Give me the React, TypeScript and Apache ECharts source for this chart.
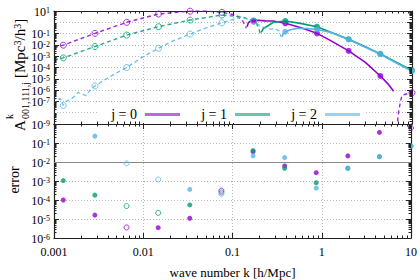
import React, { useEffect, useRef } from "react";
import * as echarts from "echarts";

const SERIF = '"Liberation Serif", "Times New Roman", Times, serif';
const COLORS = ["#9400D3", "#009E73", "#56B4E9"];
const legendLabels = ["j = 0", "j = 1", "j = 2"];

// k values where markers / errors are evaluated
const kMarkers = [0.00127, 0.00287, 0.0065, 0.0147, 0.0332, 0.0751, 0.17, 0.384, 0.867, 1.96, 4.43, 10];

// top panel marker values |A|
const topMark0 = [9.5e-3, 0.105, 1.0, 5.4, 9.6, 7.6, 1.38, 0.81, 0.105, 2.95e-3, 1.78e-5, 5.9e-7];
const topMark1 = [7.1e-4, 7.2e-3, 0.074, 0.41, 1.58, 4.4, 1.26, 1.32, 0.41, 0.032, 1.6e-3, 5.6e-5];
const topMark2 = [4.4e-8, 2.3e-6, 1.0e-4, 5.0e-3, 0.091, 0.91, 1.26, 0.145, 0.234, 0.03, 1.5e-3, 4.7e-5];
// 1 = negative value (open marker)
const topOpen0 = [1, 1, 1, 1, 1, 1, 0, 0, 0, 0, 0, 1];
const topOpen1 = [1, 1, 1, 1, 1, 1, 1, 0, 0, 0, 0, 0];
const topOpen2 = [1, 1, 1, 1, 1, 1, 1, 0, 0, 0, 0, 0];

// bottom panel errors
const err0 = [1e-4, 1.6e-5, 3.6e-6, 3.5e-6, 1.1e-5, 3.1e-4, 0.035, 6.2e-3, 2.75e-3, 0.021, 0.36, 0.63];
const err1 = [1.05e-3, 1.8e-4, 4.8e-5, 2.1e-5, 5.5e-5, 2.5e-4, 0.04, 4.7e-3, 8.1e-4, 4.7e-3, 0.019, 0.069];
const err2 = [null, 0.23, 8.5e-3, 1.2e-3, 3.6e-4, 2.1e-4, 0.021, 0.017, 4.2e-4, 4.7e-3, 0.019, 0.069];
const errOpen0 = [0, 0, 1, 0, 0, 1, 0, 0, 0, 0, 0, 1];
const errOpen1 = [0, 0, 1, 1, 0, 1, 0, 0, 0, 0, 0, 0];
const errOpen2 = [0, 0, 1, 1, 0, 1, 0, 0, 0, 0, 0, 0];

// curves: [k, |A|]
const curve0Neg = [
  [0.001, 5.9e-3], [0.00127, 9.5e-3], [0.00287, 0.105], [0.0065, 1.0], [0.0147, 5.4],
  [0.0332, 9.8], [0.05, 10], [0.0751, 7.6], [0.106, 4.5], [0.127, 1.6], [0.141, 0.3],
];
const curve0Pos = [
  [0.144, 0.4], [0.148, 0.9], [0.156, 1.25], [0.17, 1.38], [0.191, 1.5], [0.229, 1.35],
  [0.282, 1.3], [0.384, 0.81], [0.565, 0.35], [0.867, 0.105], [1.22, 0.025], [1.96, 2.95e-3],
  [3.01, 2.8e-4], [4.43, 1.78e-5], [5.45, 3.2e-6], [6.24, 8e-7],
];
const curve0NegHigh = [
  [6.7, 1e-10], [7.0, 6.3e-9], [7.42, 1e-7], [7.75, 3.5e-7], [8.44, 4.3e-7], [10, 5.9e-7],
];
const curve1Neg = [
  [0.001, 4.4e-4], [0.00127, 7.1e-4], [0.00287, 7.2e-3], [0.0065, 0.074], [0.0147, 0.41],
  [0.0332, 1.58], [0.0751, 4.4], [0.12, 3.2], [0.148, 2.0], [0.17, 1.26], [0.182, 0.85],
  [0.195, 0.25], [0.201, 0.1],
];
const curve1Pos = [
  [0.207, 0.13], [0.218, 0.28], [0.241, 0.45], [0.282, 1.0], [0.384, 1.32], [0.565, 0.8],
  [0.867, 0.41], [1.22, 0.14], [1.96, 0.032], [3.01, 7e-3], [4.43, 1.6e-3], [6.52, 3.2e-4],
  [10, 5.6e-5],
];
const curve2Neg = [
  [0.001, 5e-8], [0.00108, 1.26e-7], [0.00117, 1.8e-7], [0.00127, 4.4e-8], [0.00136, 1e-7],
  [0.00151, 1.4e-7], [0.00167, 2.5e-7], [0.00185, 6.3e-7], [0.00206, 4.5e-7], [0.00228, 3.2e-7],
  [0.00253, 1e-6], [0.00287, 2.3e-6], [0.00423, 1.6e-5], [0.0065, 1e-4], [0.00964, 7.9e-4],
  [0.0147, 5e-3], [0.022, 0.025], [0.0332, 0.091], [0.0501, 0.32], [0.0751, 0.91], [0.12, 2.8],
  [0.144, 2.0], [0.17, 1.26], [0.201, 0.45], [0.229, 0.32], [0.261, 0.25], [0.297, 0.28],
  [0.329, 0.16], [0.346, 0.05],
];
const curve2Pos = [
  [0.355, 0.054], [0.364, 0.1], [0.384, 0.145], [0.437, 0.22], [0.523, 0.29], [0.677, 0.28],
  [0.867, 0.234], [1.22, 0.13], [1.96, 0.03], [3.01, 6.3e-3], [4.43, 1.5e-3], [6.52, 2.8e-4],
  [10, 4.7e-5],
];

// axis ranges
const X_RANGE = [0.001, 10];
const Y_TOP_RANGE = [1e-9, 10];
const Y_BOT_RANGE = [1e-6, 1];
const MINOR_MULTS = [2, 3, 4, 5, 6, 7, 8, 9];

const AX = "#222";
const GRID_COLOR = "#b8b8b8";

const supRich = {
  b: { fontFamily: SERIF, fontSize: 12, color: "#000", lineHeight: 9, padding: [1, 0, 0, 0] },
  s: { fontFamily: SERIF, fontSize: 8, color: "#000", lineHeight: 5, verticalAlign: "top" },
};
const supFmt = (v: number) => `{b|10}{s|${Math.round(Math.log10(v))}}`;

// minor tick positions of a log axis (decoration, not data)
function minorTicks(range: number[]) {
  const out: number[] = [];
  const e0 = Math.round(Math.log10(range[0]));
  const e1 = Math.round(Math.log10(range[1]));
  for (let e = e0; e < e1; e++) MINOR_MULTS.forEach((m) => out.push(m * Math.pow(10, e)));
  return out;
}

function xAxis(grid: number, pos: "top" | "bottom", labels: boolean, split: boolean) {
  return {
    type: "log",
    logBase: 10,
    gridIndex: grid,
    position: pos,
    min: X_RANGE[0],
    max: X_RANGE[1],
    axisLine: { show: true, onZero: false, lineStyle: { color: AX, width: 1.2 } },
    axisTick: { show: true, inside: true, length: 5, lineStyle: { color: AX } },
    minorTick: { show: false },
    axisLabel: labels
      ? {
          show: true,
          fontFamily: SERIF,
          fontSize: 12,
          color: "#000",
          margin: 8,
          showMinLabel: true,
          showMaxLabel: true,
          formatter: (v: number) => {
            const e = Math.round(Math.log10(v));
            return e < 0 ? Math.pow(10, e).toFixed(-e) : String(Math.pow(10, e));
          },
        }
      : { show: false },
    splitLine: { show: split, lineStyle: { type: [1, 2], color: GRID_COLOR } },
    name: labels ? "wave number k [h/Mpc]" : "",
    nameLocation: "middle",
    nameGap: 28,
    nameTextStyle: { fontFamily: SERIF, fontSize: 13, color: "#000" },
  };
}

function yAxis(grid: number, pos: "left" | "right", range: number[], labels: boolean, split: boolean, hideTop: boolean) {
  return {
    type: "log",
    logBase: 10,
    gridIndex: grid,
    position: pos,
    min: range[0],
    max: range[1],
    interval: 1,
    splitNumber: Math.round(Math.log10(range[1] / range[0])),
    axisLine: { show: true, onZero: false, lineStyle: { color: AX, width: 1.2 } },
    axisTick: { show: true, inside: true, length: 5, lineStyle: { color: AX } },
    minorTick: { show: false },
    axisLabel: labels
      ? {
          show: true,
          margin: 4,
          showMinLabel: true,
          showMaxLabel: true,
          hideOverlap: false,
          formatter: (v: number) => (hideTop && v >= 0.999 ? "" : supFmt(v)),
          rich: supRich,
        }
      : { show: false },
    splitLine: { show: split, lineStyle: { type: [1, 2], color: GRID_COLOR } },
  };
}

// custom series drawing minor ticks on all four sides of a panel
function minorTickSeries(grid: number, yRange: number[]) {
  const xs = minorTicks(X_RANGE).map((v) => [v, yRange[1], 0]);
  const ys = minorTicks(yRange).map((v) => [X_RANGE[0], v, 1]);
  const L = 2.5;
  return {
    type: "custom",
    xAxisIndex: grid,
    yAxisIndex: grid,
    silent: true,
    clip: false,
    z: 6,
    encode: { x: 0, y: 1 },
    data: [...xs, ...ys],
    renderItem: (params: any, api: any) => {
      const cs = params.coordSys;
      const p = api.coord([api.value(0), api.value(1)]);
      const style = { stroke: AX, lineWidth: 1 };
      if (api.value(2) === 0) {
        const x = Math.round(p[0]) + 0.5;
        return {
          type: "group",
          children: [
            { type: "line", shape: { x1: x, y1: cs.y + cs.height, x2: x, y2: cs.y + cs.height - L }, style },
            { type: "line", shape: { x1: x, y1: cs.y, x2: x, y2: cs.y + L }, style },
          ],
        };
      }
      const y = Math.round(p[1]) + 0.5;
      return {
        type: "group",
        children: [
          { type: "line", shape: { x1: cs.x, y1: y, x2: cs.x + L, y2: y }, style },
          { type: "line", shape: { x1: cs.x + cs.width, y1: y, x2: cs.x + cs.width - L, y2: y }, style },
        ],
      };
    },
  };
}

function pairs(ks: number[], vs: (number | null)[], flags: number[], want: number) {
  const out: number[][] = [];
  ks.forEach((k, i) => {
    const v = vs[i];
    if (v != null && flags[i] === want) out.push([k, v]);
  });
  return out;
}

function lineSeries(data: number[][], color: string, dashed: boolean) {
  return {
    type: "line",
    xAxisIndex: 0,
    yAxisIndex: 0,
    data,
    symbol: "none",
    showSymbol: false,
    smooth: false,
    clip: true,
    silent: true,
    lineStyle: dashed
      ? { color, width: 1.4, type: [4, 3], opacity: 0.85 }
      : { color, width: 1.6 },
    z: 3,
  };
}

function scatter(data: number[][], color: string, open: boolean, xi: number, size: number) {
  return {
    type: "scatter",
    xAxisIndex: xi,
    yAxisIndex: xi,
    data,
    symbol: "circle",
    symbolSize: size,
    silent: true,
    clip: true,
    itemStyle: open
      ? { color: "rgba(255,255,255,0)", borderColor: color, borderWidth: 1 }
      : { color, borderWidth: 0 },
    z: 4,
  };
}

function txt(text: string, x: number, y: number, size: number, align: string, rotated = false, extra: any = {}) {
  return {
    type: "text",
    x,
    y,
    rotation: rotated ? Math.PI / 2 : 0,
    z: 5,
    style: {
      text,
      font: `${size}px ${SERIF}`,
      fill: "#000",
      align,
      verticalAlign: "middle",
      ...extra,
    },
  };
}

function buildOption() {
  const tops = [topMark0, topMark1, topMark2];
  const topOpens = [topOpen0, topOpen1, topOpen2];
  const errs = [err0, err1, err2];
  const errOpens = [errOpen0, errOpen1, errOpen2];

  const series: any[] = [
    minorTickSeries(0, Y_TOP_RANGE),
    minorTickSeries(1, Y_BOT_RANGE),
    lineSeries(curve0Neg, COLORS[0], true),
    lineSeries(curve0Pos, COLORS[0], false),
    lineSeries(curve0NegHigh, COLORS[0], true),
    lineSeries(curve1Neg, COLORS[1], true),
    lineSeries(curve1Pos, COLORS[1], false),
    lineSeries(curve2Neg, COLORS[2], true),
    lineSeries(curve2Pos, COLORS[2], false),
  ];
  for (let j = 0; j < 3; j++) {
    series.push(scatter(pairs(kMarkers, tops[j], topOpens[j], 1), COLORS[j], true, 0, 6));
    series.push(scatter(pairs(kMarkers, tops[j], topOpens[j], 0), COLORS[j], false, 0, 6));
  }
  for (let j = 0; j < 3; j++) {
    series.push(scatter(pairs(kMarkers, errs[j], errOpens[j], 1), COLORS[j], true, 1, 5));
    series.push(scatter(pairs(kMarkers, errs[j], errOpens[j], 0), COLORS[j], false, 1, 5));
  }
  series[series.length - 1].markLine = {
    silent: true,
    symbol: "none",
    label: { show: false },
    lineStyle: { color: "#8a8a8a", width: 1, type: "solid" },
    data: [{ yAxis: 0.01 }],
    z: 2,
  };

  const graphic: any[] = [
    // legend box
    { type: "rect", shape: { x: 98, y: 104, width: 268, height: 19 }, style: { fill: "#fff" }, z: 1 },
  ];
  const lx = [137, 227, 317];
  for (let j = 0; j < 3; j++) {
    graphic.push(txt(legendLabels[j], lx[j], 114, 14, "right"));
    graphic.push({
      type: "line",
      z: 5,
      shape: { x1: lx[j] + 8, y1: 114.5, x2: lx[j] + 43, y2: 114.5 },
      style: { stroke: COLORS[j], lineWidth: 3, opacity: 0.6 },
    });
  }
  // y title of top panel, each piece rotated to read bottom-to-top
  graphic.push(txt("A", 20, 131, 15, "left", true));
  graphic.push(txt("k", 9, 119, 10, "left", true));
  graphic.push(txt("001,111,j", 25, 119, 10, "left", true));
  graphic.push(
    txt("[Mpc{s|3}/h{s|3}]", 20, 78, 15, "left", true, {
      rich: {
        s: { fontFamily: SERIF, fontSize: 10, lineHeight: 9, verticalAlign: "top", fill: "#000" },
      },
    })
  );
  graphic.push(txt("error", 14, 180, 14, "center", true));

  return {
    animation: false,
    backgroundColor: "#fff",
    grid: [
      { left: 54, right: 8, top: 11, height: 113 },
      { left: 54, right: 8, top: 124, height: 114 },
    ],
    xAxis: [
      xAxis(0, "bottom", false, true),
      xAxis(1, "bottom", true, true),
      xAxis(0, "top", false, false),
      xAxis(1, "top", false, false),
    ],
    yAxis: [
      yAxis(0, "left", Y_TOP_RANGE, true, true, false),
      yAxis(1, "left", Y_BOT_RANGE, true, true, true),
      yAxis(0, "right", Y_TOP_RANGE, false, false, false),
      yAxis(1, "right", Y_BOT_RANGE, false, false, false),
    ],
    graphic,
    series,
  };
}

export default function App() {
  const ref = useRef<HTMLDivElement>(null);
  useEffect(() => {
    const chart = echarts.init(ref.current!, null, { renderer: "svg" });
    chart.setOption(buildOption() as any);
    return () => chart.dispose();
  }, []);
  return <div ref={ref} style={{ position: "absolute", left: 0, top: 0, width: 420, height: 280 }} />;
}
